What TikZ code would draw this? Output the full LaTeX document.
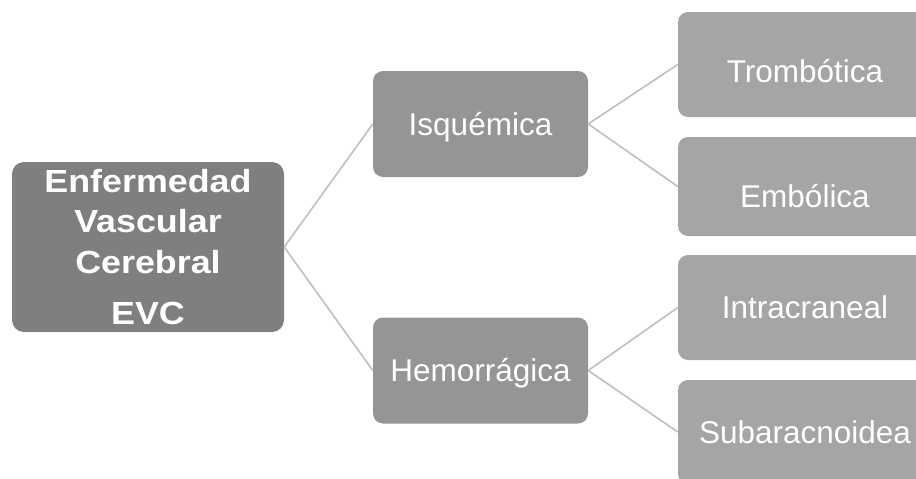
\documentclass[tikz,border=0pt]{standalone}
\usepackage{fontspec}
\setmainfont{Liberation Sans}
\newfontfamily\rootfont{Liberation Sans}[FakeStretch=1.12]
\usepackage{tikz}
\usetikzlibrary{positioning}
\usepackage{xcolor}

\definecolor{rootgray}{HTML}{7F7F7F}
\definecolor{midgray}{HTML}{959595}
\definecolor{leafgray}{HTML}{A5A5A5}
\definecolor{linkgray}{HTML}{BFBFBF}

\begin{document}
\begin{tikzpicture}[
    x=1pt, y=-1pt,
    rootbox/.style={
        fill=rootgray,
        rounded corners=12pt,
        minimum width=272pt,
        minimum height=170pt,
        text=white,
        align=center,
        font=\rootfont\bfseries\fontsize{32}{40.5}\selectfont
    },
    midbox/.style={
        fill=midgray,
        rounded corners=10pt,
        minimum width=215pt,
        minimum height=106pt,
        text=white,
        text height=22.5pt,
        text depth=0pt,
        font=\fontsize{31.5}{36}\selectfont
    },
    leafbox/.style={
        fill=leafgray,
        rounded corners=10pt,
        minimum width=254pt,
        minimum height=105pt,
        text=white,
        text height=22.5pt,
        text depth=0pt,
        font=\fontsize{31.5}{36}\selectfont
    },
    link/.style={draw=linkgray, line width=1.6pt},
    ]

    \useasboundingbox (0,0) rectangle (916,479);
    \clip (0,0) rectangle (916,479);

    \node[rootbox] (evc) at (148,247) {Enfermedad\\Vascular\\Cerebral\\[11pt]EVC};

    \node[midbox] (isq) at (480.5,124) {Isquémica};
    \node[midbox] (hem) at (480.5,370.5) {Hemorrágica};

    \node[leafbox, text height=35.5pt] (trom) at (805,64.5) {Trombótica};
    \node[leafbox, minimum height=99pt, text height=41.5pt] (embo) at (805,186.5) {Embólica};
    \node[leafbox] (intra) at (805,307.5) {Intracraneal};
    \node[leafbox, minimum height=104pt] (suba) at (805,432) {Subaracnoidea};

    \path[link]
        (evc.east) -- (isq.west)
        (evc.east) -- (hem.west)
        (isq.east) -- (trom.west)
        (isq.east) -- (embo.west)
        (hem.east) -- (intra.west)
        (hem.east) -- (suba.west);
\end{tikzpicture}
\end{document}
